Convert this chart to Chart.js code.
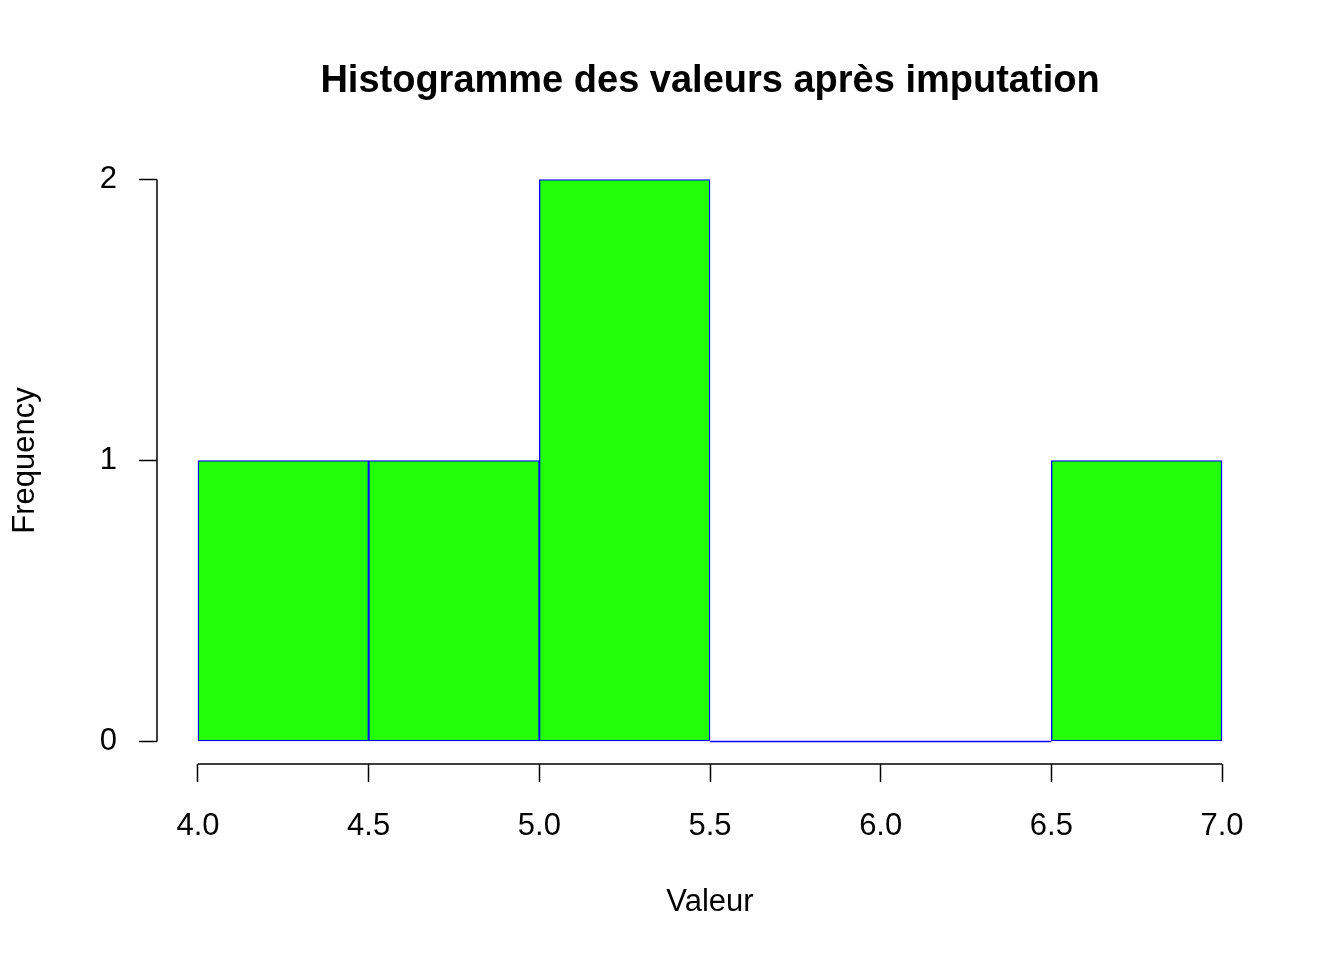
<!DOCTYPE html>
<html>
<head>
<meta charset="utf-8">
<title>Histogramme</title>
<script src="https://cdn.jsdelivr.net/npm/chart.js@4"></script>
<style>
  html, body { margin: 0; padding: 0; background: #fff; }
  #wrap { width: 1344px; height: 960px; }
</style>
</head>
<body>
<div id="wrap"><canvas id="hist" width="1344" height="960"></canvas></div>
<script>
// histogram bins (break points) and counts per bin
const binEdges = [4.0, 4.5, 5.0, 5.5, 6.0, 6.5, 7.0];
const binCounts = [1, 1, 2, 0, 0, 1];
const xTicks = [4.0, 4.5, 5.0, 5.5, 6.0, 6.5, 7.0];
const yTicks = [0, 1, 2];

const FONT = "'Liberation Sans', Arial, Helvetica, sans-serif";
const xMin = 4.0, xMax = 7.0, yMin = 0, yMax = 2;
// R extends axis ranges by 4% on each side
const xPad = (xMax - xMin) * 0.04;
const yPad = (yMax - yMin) * 0.04;

const barPoints = binCounts.map((c, i) => ({
  x: (binEdges[i] + binEdges[i + 1]) / 2,
  y: c
}));

// empty bins still get their outline drawn along zero
const zeroLine = [];
binCounts.forEach((c, i) => {
  if (c === 0) {
    zeroLine.push({ x: binEdges[i], y: 0 }, { x: binEdges[i + 1], y: 0 });
  } else if (zeroLine.length && zeroLine[zeroLine.length - 1].y !== null) {
    zeroLine.push({ x: binEdges[i], y: null });
  }
});

const rAxes = {
  id: "rAxes",
  afterDraw(chart) {
    const { ctx, chartArea, scales } = chart;
    const x = scales.x, y = scales.y;
    ctx.save();
    ctx.strokeStyle = "#000";
    ctx.lineWidth = 1.5;
    ctx.beginPath();
    ctx.moveTo(x.getPixelForValue(xTicks[0]), chartArea.bottom);
    ctx.lineTo(x.getPixelForValue(xTicks[xTicks.length - 1]), chartArea.bottom);
    ctx.moveTo(chartArea.left, y.getPixelForValue(yTicks[0]));
    ctx.lineTo(chartArea.left, y.getPixelForValue(yTicks[yTicks.length - 1]));
    ctx.stroke();

    ctx.fillStyle = "#000";
    ctx.font = "bold 38px " + FONT;
    ctx.textAlign = "center";
    ctx.textBaseline = "middle";
    ctx.fillText("Histogramme des valeurs après imputation",
      (chartArea.left + chartArea.right) / 2, 82);
    ctx.restore();
  }
};

new Chart(document.getElementById("hist"), {
  type: "bar",
  data: {
    datasets: [
      {
        type: "bar",
        data: barPoints,
        backgroundColor: "#22ff08",
        borderColor: "#0000ff",
        borderWidth: 1.3,
        borderSkipped: false,
        barPercentage: 1,
        categoryPercentage: 1
      },
      {
        type: "line",
        data: zeroLine,
        borderColor: "#0000ff",
        borderWidth: 1.3,
        pointRadius: 0,
        spanGaps: false
      }
    ]
  },
  options: {
    responsive: false,
    devicePixelRatio: 1,
    animation: false,
    layout: { padding: { top: 157, right: 81, left: 0, bottom: 0 } },
    plugins: {
      legend: { display: false },
      tooltip: { enabled: false },
      title: { display: false }
    },
    scales: {
      x: {
        type: "linear",
        offset: false,
        min: xMin - xPad,
        max: xMax + xPad,
        afterBuildTicks: (s) => { s.ticks = xTicks.map(v => ({ value: v })); },
        afterFit: (s) => { s.height = 196; },
        border: { display: false },
        grid: {
          offset: false,
          drawOnChartArea: false,
          drawTicks: true,
          tickLength: 18,
          tickWidth: 1.5,
          tickColor: "#000"
        },
        ticks: {
          color: "#000",
          padding: 26,
          maxRotation: 0,
          autoSkip: false,
          font: { family: FONT, size: 31 },
          callback: (v) => Number(v).toFixed(1)
        },
        title: {
          display: true,
          text: "Valeur",
          color: "#000",
          font: { family: FONT, size: 31 },
          padding: { top: 0, bottom: 39 }
        }
      },
      y: {
        type: "linear",
        min: yMin - yPad,
        max: yMax + yPad,
        afterBuildTicks: (s) => { s.ticks = yTicks.map(v => ({ value: v })); },
        afterFit: (s) => { s.width = 157; },
        border: { display: false },
        grid: {
          drawOnChartArea: false,
          drawTicks: true,
          tickLength: 18,
          tickWidth: 1.5,
          tickColor: "#000"
        },
        ticks: {
          color: "#000",
          padding: 22,
          autoSkip: false,
          font: { family: FONT, size: 31 },
          callback: (v) => String(v)
        },
        title: {
          display: true,
          text: "Frequency",
          color: "#000",
          font: { family: FONT, size: 31 },
          padding: { top: 7, bottom: 0 }
        }
      }
    }
  },
  plugins: [rAxes]
});
</script>
</body>
</html>
